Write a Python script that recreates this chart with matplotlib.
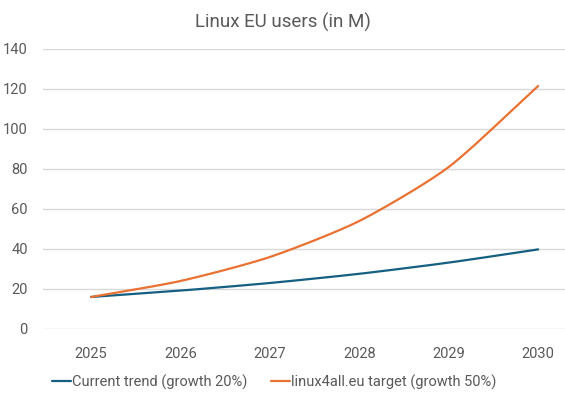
import numpy as np
import matplotlib
matplotlib.use('Agg')
import matplotlib.pyplot as plt

# Chart data
years = ['2025', '2026', '2027', '2028', '2029', '2030']
current_trend = [16.0, 19.2, 23.0, 27.6, 33.2, 39.8]
linux4all_target = [16.0, 24.0, 36.0, 54.0, 81.0, 121.5]

series_names = ['Current trend (growth 20%)', 'linux4all.eu target (growth 50%)']
colors = ['#156082', '#E97132']
text_color = '#595959'


def smooth(xs, ys, steps=30, tension=0.35):
    # cardinal spline through the points, like Excel's smoothed line
    xs = np.asarray(xs, float)
    ys = np.asarray(ys, float)
    px = np.concatenate([[2 * xs[0] - xs[1]], xs, [2 * xs[-1] - xs[-2]]])
    py = np.concatenate([[2 * ys[0] - ys[1]], ys, [2 * ys[-1] - ys[-2]]])
    out_x, out_y = [], []
    t = np.linspace(0, 1, steps)
    h00 = 2 * t ** 3 - 3 * t ** 2 + 1
    h10 = t ** 3 - 2 * t ** 2 + t
    h01 = -2 * t ** 3 + 3 * t ** 2
    h11 = t ** 3 - t ** 2
    for i in range(1, len(px) - 2):
        for arr, res in ((px, out_x), (py, out_y)):
            p0, p1, p2, p3 = arr[i - 1], arr[i], arr[i + 1], arr[i + 2]
            m1 = tension * (p2 - p0)
            m2 = tension * (p3 - p1)
            res.extend(h00 * p1 + h10 * m1 + h01 * p2 + h11 * m2)
    return out_x, out_y


plt.rcParams['font.family'] = ['Roboto', 'DejaVu Sans']

fig = plt.figure(figsize=(5.65, 4.01), dpi=100)
ax = fig.add_axes([43 / 565, 1 - 329 / 401, 1 - 43 / 565, (329 - 49) / 401])

x = np.arange(len(years))
for vals, name, c in zip([current_trend, linux4all_target], series_names, colors):
    sx, sy = smooth(x, vals)
    ax.plot(sx, sy, color=c, lw=1.6, label=name, solid_capstyle='round')

ax.set_xlim(-0.537, 5.30)
ax.set_ylim(0, 140)
ax.set_yticks(range(0, 141, 20))
ax.set_xticks(x)
ax.set_xticklabels(years)
ax.grid(axis='y', color='#D9D9D9', lw=1)
ax.set_axisbelow(True)
for s in ax.spines.values():
    s.set_visible(False)
ax.tick_params(length=0, colors=text_color, labelsize=10.5)
ax.tick_params(axis='x', pad=13)
ax.tick_params(axis='y', pad=11)

fig.text(0.5, 1 - 22 / 401, 'Linux EU users (in M)', ha='center', va='center',
         fontsize=13.5, color=text_color)

fig.legend(loc='center', bbox_to_anchor=(0.485, 1 - 382 / 401), ncol=2, frameon=False,
           fontsize=10.5, labelcolor=text_color, handlelength=1.3, handletextpad=0.1,
           columnspacing=1.6)

fig.savefig('out.png', dpi=100)
